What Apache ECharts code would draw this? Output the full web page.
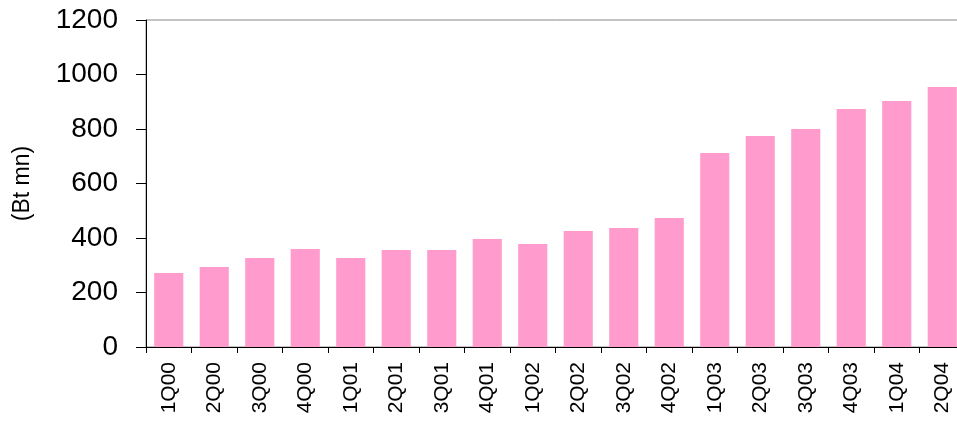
<!DOCTYPE html>
<html>
<head>
<meta charset="utf-8">
<script src="https://cdn.jsdelivr.net/npm/echarts@6/dist/echarts.min.js"></script>
<style>
html,body{margin:0;padding:0;background:#fff;overflow:hidden;width:957px;height:422px;}
#chart{width:966px;height:422px;}
</style>
</head>
<body>
<div id="chart"></div>
<script>
// 季度数据
var quarters = ['1Q00','2Q00','3Q00','4Q00','1Q01','2Q01','3Q01','4Q01','1Q02','2Q02','3Q02','4Q02','1Q03','2Q03','3Q03','4Q03','1Q04','2Q04'];
var values = [272,294,327,360,327,356,356,396,378,426,437,473,712,774,800,873,903,954];
var yTicks = {min: 0, max: 1200, interval: 200};
var yTitle = '(Bt mn)';

function chartBar(id){
    var myChart = echarts.init(document.getElementById(id));
    var option = {
        animation: false,
        textStyle: {
            fontFamily: 'Liberation Sans, Arial, sans-serif'
        },
        grid: {
            show: true,
            left: 146,
            top: 20,
            right: 1,
            bottom: 75,
            borderColor: '#888',
            borderWidth: 1
        },
        xAxis: {
            type: 'category',
            data: quarters,
            axisLine: {
                show: true,
                lineStyle: {color: '#000', width: 1}
            },
            axisTick: {
                show: true,
                length: 6,
                lineStyle: {color: '#000'}
            },
            axisLabel: {
                rotate: 90,
                margin: 15,
                color: '#000',
                fontSize: 21,
                interval: 0
            },
            splitLine: {show: false}
        },
        yAxis: {
            type: 'value',
            min: yTicks.min,
            max: yTicks.max,
            interval: yTicks.interval,
            name: yTitle,
            nameLocation: 'middle',
            nameGap: 112,
            nameTextStyle: {
                color: '#000',
                fontSize: 23
            },
            axisLine: {
                show: true,
                lineStyle: {color: '#000', width: 1}
            },
            axisTick: {
                show: true,
                length: 10,
                lineStyle: {color: '#000'}
            },
            axisLabel: {
                margin: 28,
                color: '#000',
                fontSize: 28,
                formatter: function(v){ return String(v); }
            },
            splitLine: {show: false}
        },
        series: [
            {
                name: '',
                type: 'bar',
                data: values,
                barCategoryGap: '36%',
                itemStyle: {color: '#FF9BCD'}
            }
        ]
    };
    myChart.setOption(option);
    return myChart;
}

chartBar('chart');
</script>
</body>
</html>
